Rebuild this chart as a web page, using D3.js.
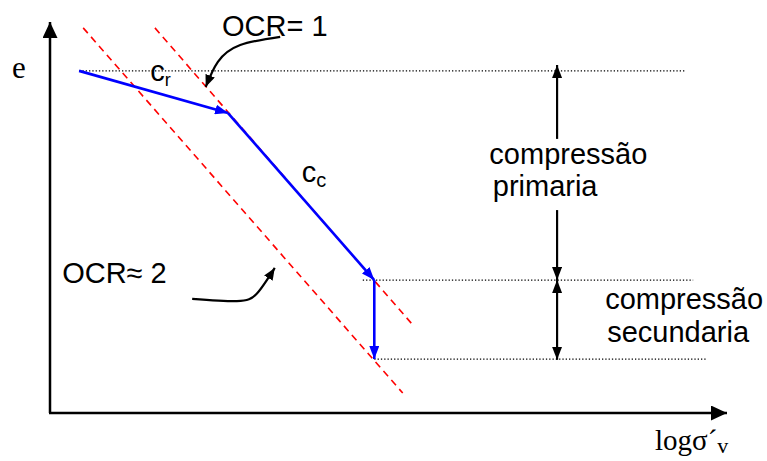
<!DOCTYPE html>
<html>
<head>
<meta charset="utf-8">
<script src="https://cdn.jsdelivr.net/npm/d3@7"></script>
<style>
  html, body { margin: 0; padding: 0; background: #fff; }
  .sans { font-family: "Liberation Sans", Arial, sans-serif; }
  .serif { font-family: "Liberation Serif", "Times New Roman", serif; }
</style>
</head>
<body>
<div id="chart"></div>
<script>
  'use strict';

  // schematic units: x = log sigma'v (0..100), y = void ratio e (0..100)
  var compressionPath = [[4.3, 87.5], [26.3, 76.7], [47.9, 34.0], [47.9, 13.8]];
  var ocrLines = [
    [[4.9, 98.5], [52.1, 5.1]],    // OCR ~ 2
    [[15.5, 98.5], [53.6, 22.5]]   // OCR = 1
  ];
  var levelLines = [
    {e: 87.5, from: 4.3, to: 93.8},
    {e: 34.0, from: 46.2, to: 95.0},
    {e: 13.8, from: 47.9, to: 97.0}
  ];
  var spanX = 74.9;
  var spans = [[89.0, 70.1], [51.9, 34.0], [34.0, 13.6]];  // [top, bottom] pieces of the double arrows
  var spanHeads = [[true, false], [false, true], [true, true]];
  var ocr1Curve = [[34.0, 96.2], [28.1, 94.1], [24.8, 89.8], [23.0, 83.4]];
  var ocr2Curve = [[21.0, 29.2], [27.6, 28.6], [30.6, 30.6], [33.2, 37.1]];

  var labels = [
    {text: 'OCR= 1', at: [25.4, 96.4]},
    {text: 'OCR\u2248 2', at: [1.8, 33.2]},
    {text: 'compress\u00e3o', at: [64.9, 63.6]},
    {text: 'primaria', at: [65.4, 55.4]},
    {text: 'compress\u00e3o', at: [82.0, 26.6]},
    {text: 'secundaria', at: [82.3, 18.2]}
  ];

  var width = 767, height = 461;

  var x = d3.scaleLinear().domain([0, 100]).range([50, 727]);
  var y = d3.scaleLinear().domain([0, 100]).range([413, 22]);

  var svg = d3.select('#chart').append('svg')
    .attr('width', width)
    .attr('height', height)
    .attr('viewBox', '0 0 ' + width + ' ' + height);

  var defs = svg.append('defs');
  function marker(id, color, len, wid) {
    defs.append('marker')
      .attr('id', id)
      .attr('markerUnits', 'userSpaceOnUse')
      .attr('viewBox', '0 0 ' + len + ' ' + wid)
      .attr('refX', len)
      .attr('refY', wid / 2)
      .attr('markerWidth', len)
      .attr('markerHeight', wid)
      .attr('orient', 'auto-start-reverse')
    .append('path')
      .attr('d', 'M0,0L' + len + ',' + (wid / 2) + 'L0,' + wid + 'Z')
      .attr('fill', color);
  }
  marker('axisHead', '#000', 16, 15);
  marker('blueHead', '#0000ff', 13, 10);
  marker('blackHead', '#000', 12, 10);
  marker('spanHead', '#000', 13, 10);

  // axes
  svg.append('line')
    .attr('x1', x(0)).attr('y1', y(0))
    .attr('x2', x(0)).attr('y2', y(100))
    .attr('stroke', '#000').attr('stroke-width', 2.5)
    .attr('marker-end', 'url(#axisHead)');
  svg.append('line')
    .attr('x1', x(0) - 1).attr('y1', y(0))
    .attr('x2', x(100)).attr('y2', y(0))
    .attr('stroke', '#000').attr('stroke-width', 2.5)
    .attr('marker-end', 'url(#axisHead)');

  // dotted level lines
  svg.selectAll('.level')
    .data(levelLines)
    .enter().append('line')
      .attr('class', 'level')
      .attr('x1', function(d) { return x(d.from); })
      .attr('x2', function(d) { return x(d.to); })
      .attr('y1', function(d) { return y(d.e); })
      .attr('y2', function(d) { return y(d.e); })
      .attr('stroke', '#000')
      .attr('stroke-width', 1.3)
      .attr('stroke-dasharray', '1.3,2');

  // red dashed OCR lines
  svg.selectAll('.ocr')
    .data(ocrLines)
    .enter().append('line')
      .attr('class', 'ocr')
      .attr('x1', function(d) { return x(d[0][0]); })
      .attr('y1', function(d) { return y(d[0][1]); })
      .attr('x2', function(d) { return x(d[1][0]); })
      .attr('y2', function(d) { return y(d[1][1]); })
      .attr('stroke', '#ff0000')
      .attr('stroke-width', 1.6)
      .attr('stroke-dasharray', '7,5');

  // blue compression path, one arrow per segment
  var segs = d3.pairs(compressionPath);
  svg.selectAll('.seg')
    .data(segs)
    .enter().append('line')
      .attr('class', 'seg')
      .attr('x1', function(d) { return x(d[0][0]); })
      .attr('y1', function(d) { return y(d[0][1]); })
      .attr('x2', function(d) { return x(d[1][0]); })
      .attr('y2', function(d) { return y(d[1][1]); })
      .attr('stroke', '#0000ff')
      .attr('stroke-width', 2.6)
      .attr('marker-end', 'url(#blueHead)');

  // double arrows on the right
  svg.selectAll('.span')
    .data(spans)
    .enter().append('line')
      .attr('class', 'span')
      .attr('x1', x(spanX)).attr('x2', x(spanX))
      .attr('y1', function(d) { return y(d[0]); })
      .attr('y2', function(d) { return y(d[1]); })
      .attr('stroke', '#000')
      .attr('stroke-width', 2.2)
      .attr('marker-start', function(d, i) { return spanHeads[i][0] ? 'url(#spanHead)' : null; })
      .attr('marker-end', function(d, i) { return spanHeads[i][1] ? 'url(#spanHead)' : null; });

  // curved pointer arrows
  var curve = d3.line()
    .curve(d3.curveNatural)
    .x(function(d) { return x(d[0]); })
    .y(function(d) { return y(d[1]); });
  svg.selectAll('.pointer')
    .data([ocr1Curve, ocr2Curve])
    .enter().append('path')
      .attr('class', 'pointer')
      .attr('d', curve)
      .attr('fill', 'none')
      .attr('stroke', '#000')
      .attr('stroke-width', 2.2)
      .attr('marker-end', 'url(#blackHead)');

  // labels
  svg.selectAll('.lbl')
    .data(labels)
    .enter().append('text')
      .attr('class', 'lbl sans')
      .attr('x', function(d) { return x(d.at[0]); })
      .attr('y', function(d) { return y(d.at[1]); })
      .attr('font-size', 29)
      .attr('fill', '#000')
      .text(function(d) { return d.text; });

  // c_r and c_c
  var cr = svg.append('text').attr('class', 'sans')
    .attr('x', x(14.8)).attr('y', y(85.0)).attr('font-size', 29);
  cr.append('tspan').text('c');
  cr.append('tspan').attr('font-size', 18).attr('dy', 5).text('r');

  var cc = svg.append('text').attr('class', 'sans')
    .attr('x', x(37.2)).attr('y', y(59.1)).attr('font-size', 29);
  cc.append('tspan').text('c');
  cc.append('tspan').attr('font-size', 20).attr('dy', 5).text('c');

  // axis titles
  svg.append('text').attr('class', 'serif')
    .attr('x', 12).attr('y', y(87.5) + 7)
    .attr('font-size', 31)
    .text('e');

  var xt = svg.append('text').attr('class', 'serif')
    .attr('x', 655).attr('y', 450)
    .attr('font-size', 29);
  xt.append('tspan').text('log\u03c3\u00b4');
  xt.append('tspan').attr('font-size', 22).attr('dy', 3).text('v');
</script>
</body>
</html>
